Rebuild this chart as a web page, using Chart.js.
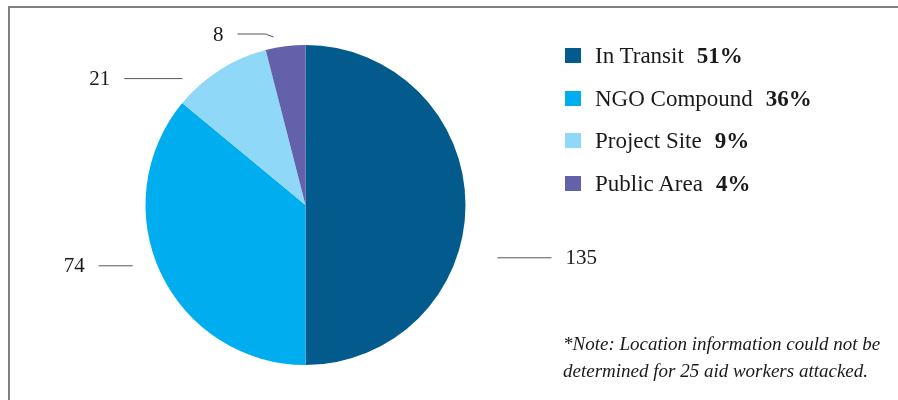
<!DOCTYPE html>
<html>
<head>
<meta charset="utf-8">
<script src="https://cdn.jsdelivr.net/npm/chart.js@4.4.1/dist/chart.umd.min.js"></script>
<style>
  body { margin: 0; background: #fff; }
  #wrap { position: relative; width: 898px; height: 400px; overflow: hidden; font-family: 'Liberation Serif', 'Times New Roman', serif; color: #1a1a1a; }
  #frame { position: absolute; left: 8px; top: 6px; right: -4px; bottom: -4px; border-top: 2px solid #808080; border-left: 2px solid #808080; }
  #chart { position: absolute; left: 0; top: 0; }
  #legend { position: absolute; left: 565px; top: 43px; }
  .row { position: relative; height: 42.5px; font-size: 23px; line-height: 26px; white-space: nowrap; }
  .box { position: absolute; left: 0; top: 5px; width: 16px; height: 15px; }
  .lbl { position: absolute; left: 30px; top: 0; }
  .lbl b { margin-left: 13px; }
  #note { position: absolute; left: 563px; top: 331px; font-size: 19px; font-style: italic; line-height: 26.5px; white-space: nowrap; }
</style>
</head>
<body>
<div id="wrap">
  <div id="frame"></div>
  <canvas id="chart" width="898" height="400"></canvas>
  <div id="legend"></div>
  <div id="note">*Note: Location information could not be<br>determined for 25 aid workers attacked.</div>
</div>
<script>
// Chart data
const locations = ['In Transit', 'NGO Compound', 'Project Site', 'Public Area'];
const workerCounts = [135, 74, 21, 8];          // numbers shown next to the pie
const sliceShare = [50, 36, 10, 4];             // slice sizes as drawn in the pie (%)
const legendPct = ['51%', '36%', '9%', '4%'];   // percentages printed in the legend
const sliceColors = ['#035a8c', '#00aeef', '#8fd8f7', '#6461ab'];

// Build the HTML legend
const legendDiv = document.getElementById('legend');
locations.forEach((name, i) => {
    const row = document.createElement('div');
    row.className = 'row';
    row.innerHTML = `<span class="box" style="background:${sliceColors[i]}"></span>` +
        `<span class="lbl">${name}<b>${legendPct[i]}</b></span>`;
    legendDiv.appendChild(row);
});

// Leader lines + count labels, placed relative to the arc geometry (units of radius)
const leaderLayout = [
    { dx: 1.20, dy: 0.33, len: 54, side: 1 },
    { dx: -1.08, dy: 0.38, len: 34, side: -1 },
    { dx: -0.77, dy: -0.79, len: 58, side: -1 },
    { dx: -0.20, dy: -1.05, len: 28, side: -1, elbow: { x: -8, y: -3 } }
];

const countLabels = {
    id: 'countLabels',
    afterDatasetsDraw(chart) {
        const c = chart.ctx;
        const arcs = chart.getDatasetMeta(0).data;
        c.save();
        c.strokeStyle = '#555';
        c.lineWidth = 1;
        c.fillStyle = '#1a1a1a';
        c.font = "21px 'Liberation Serif', serif";
        c.textBaseline = 'middle';
        arcs.forEach((arc, i) => {
            const { x, y, outerRadius } = arc.getProps(['x', 'y', 'outerRadius'], true);
            const lay = leaderLayout[i];
            let px = x + lay.dx * outerRadius;
            let py = y + lay.dy * outerRadius;
            c.beginPath();
            c.moveTo(px, py);
            if (lay.elbow) {
                px += lay.elbow.x;
                py += lay.elbow.y;
                c.lineTo(px, py);
            }
            const ex = px + lay.side * lay.len;
            c.lineTo(ex, py);
            c.stroke();
            c.textAlign = lay.side > 0 ? 'left' : 'right';
            c.fillText(String(workerCounts[i]), ex + lay.side * 14, py + 1);
        });
        c.restore();
    }
};

new Chart(document.getElementById('chart').getContext('2d'), {
    type: 'pie',
    data: {
        labels: locations,
        datasets: [{
            data: sliceShare,
            backgroundColor: sliceColors,
            borderWidth: 0
        }]
    },
    options: {
        responsive: false,
        animation: false,
        events: [],
        layout: { padding: { left: 145, right: 432, top: 45, bottom: 35 } },
        plugins: {
            legend: { display: false },
            tooltip: { enabled: false }
        }
    },
    plugins: [countLabels]
});
</script>
</body>
</html>
